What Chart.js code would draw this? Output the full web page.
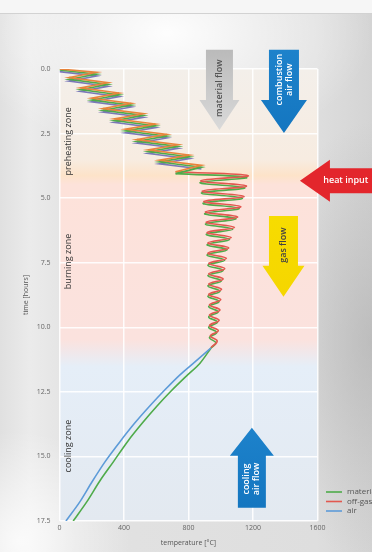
<!DOCTYPE html>
<html>
<head>
<meta charset="utf-8">
<script src="https://cdn.jsdelivr.net/npm/chart.js@4.4.1/dist/chart.umd.min.js"></script>
<style>
html, body { margin: 0; padding: 0; }
body {
    width: 372px; height: 552px; overflow: hidden; position: relative;
    background:
        radial-gradient(ellipse 55% 22% at 45% 6%, rgba(255,255,255,0.95), rgba(255,255,255,0) 100%),
        radial-gradient(ellipse 30% 40% at 100% 62%, rgba(170,170,170,0.55), rgba(170,170,170,0) 100%),
        radial-gradient(ellipse 30% 20% at 5% 98%, rgba(255,255,255,0.8), rgba(255,255,255,0) 100%),
        linear-gradient(90deg, #e0e0e0 0%, #ebebeb 8%, #e2e2e2 20%, #dedede 85%, #d4d4d4 100%);
}
#frame { position: absolute; left: 0; top: 0; width: 372px; height: 13px; background: #f6f6f6; border-bottom: 1px solid #d2d2d2; }
canvas { position: absolute; left: 0; top: 0; }
</style>
</head>
<body>
<div id="frame"></div>
<canvas id="kilnChart" width="372" height="552"></canvas>
<script>
const timeTicks = [0, 2.5, 5, 7.5, 10, 12.5, 15, 17.5];
const tempTicks = [0, 400, 800, 1200, 1600];

const zoneNames = ['preheating zone', 'burning zone', 'cooling zone'];
const zoneStart = [0, 4.3, 11.0];
const zoneEnd = [4.3, 11.0, 17.5];
const zoneLabelTime = [2.8, 7.45, 14.6];

// [temperature °C, time h]
const offgasPreheat = [[0,0],[230,0.13],[60,0.33],[300,0.53],[130,0.73],[370,0.93],[200,1.13],[445,1.33],[270,1.53],[520,1.73],[340,1.93],[595,2.13],[410,2.33],[665,2.53],[480,2.73],[735,2.93],[550,3.13],[805,3.33],[620,3.53],[880,3.73],[720,3.98]];
const materialPreheat = [[0,0.04],[230,0.2],[60,0.4],[300,0.6],[130,0.8],[370,1.0],[200,1.2],[445,1.4],[270,1.6],[520,1.8],[340,2.0],[595,2.2],[410,2.4],[665,2.6],[480,2.8],[735,3.0],[550,3.2],[805,3.4],[620,3.6],[880,3.8],[720,4.05]];
const airPreheat = [[0,0.1],[230,0.27],[60,0.47],[300,0.67],[130,0.87],[370,1.07],[200,1.27],[445,1.47],[270,1.67],[520,1.87],[340,2.07],[595,2.27],[410,2.47],[665,2.67],[480,2.87],[735,3.07],[550,3.27],[805,3.47],[620,3.67],[880,3.87]];

const offgasBurn = [[720,3.98],[1170,4.13],[875,4.33],[1160,4.53],[885,4.73],[1145,4.93],[895,5.13],[1125,5.33],[905,5.53],[1105,5.73],[910,5.93],[1085,6.13],[915,6.33],[1065,6.53],[920,6.73],[1050,6.93],[920,7.13],[1035,7.33],[925,7.53],[1025,7.73],[925,7.93],[1015,8.13],[925,8.33],[1005,8.53],[925,8.73],[1000,8.93],[930,9.13],[995,9.33],[930,9.53],[990,9.73],[930,9.93],[985,10.13],[935,10.33],[978,10.53],[940,10.78]];
const materialBurn = [[720,4.05],[1160,4.2],[870,4.4],[1150,4.6],[880,4.8],[1135,5.0],[890,5.2],[1115,5.4],[900,5.6],[1095,5.8],[905,6.0],[1075,6.2],[910,6.4],[1055,6.6],[915,6.8],[1040,7.0],[915,7.2],[1025,7.4],[920,7.6],[1015,7.8],[920,8.0],[1005,8.2],[920,8.4],[995,8.6],[920,8.8],[990,9.0],[925,9.2],[985,9.4],[925,9.6],[980,9.8],[925,10.0],[975,10.2],[930,10.4],[970,10.6],[940,10.8]];

const materialCool = [[940,10.8],[870,11.4],[785,11.9],[695,12.45],[605,13.05],[515,13.7],[425,14.4],[335,15.2],[250,15.95],[170,16.75],[85,17.5]];
const airCool = [[940,10.8],[840,11.34],[747,11.84],[654,12.42],[561,13.04],[468,13.7],[375,14.43],[282,15.21],[202,15.98],[126,16.76],[40,17.5]];

const FONT = "'Open Sans', 'DejaVu Sans', sans-serif";
const colors = { material: '#4fab4a', offgas: '#e2584f', air: '#5d9bd8' };

function pts(arr) {
    return arr.map(p => ({ x: p[0], y: p[1] }));
}

function line(data, color, tension) {
    return { data: pts(data), borderColor: color, borderWidth: 1.6, pointRadius: 0, showLine: true, tension: tension, fill: false };
}

const flowArrows = [
    { lines: ['material flow'], tail: [992, -0.75], tip: [992, 2.36], shaft: 27, head: 40, headLen: 30, fill: ['#bababa', '#dadada'], text: '#555', textAt: 0.48 },
    { lines: ['combustion', 'air flow'], tail: [1392, -0.75], tip: [1392, 2.48], shaft: 30, head: 46, headLen: 33, fill: ['#1d82cb', '#1476c0'], text: '#fff', textAt: 0.36 },
    { lines: ['heat input'], tail: [2060, 4.33], tip: [1491, 4.33], shaft: 25, head: 42, headLen: 30, fill: ['#e3262c', '#e3262c'], text: '#fff', textAt: 0.5 },
    { lines: ['gas flow'], tail: [1389, 5.69], tip: [1389, 8.82], shaft: 29, head: 42, headLen: 31, fill: ['#f7dc00', '#f5d600'], text: '#444', textAt: 0.36 },
    { lines: ['cooling', 'air flow'], tail: [1193, 16.99], tip: [1193, 13.89], shaft: 28, head: 44, headLen: 28, fill: ['#1476c0', '#1d82cb'], text: '#fff', textAt: 0.36 }
];

const zonePlugin = {
    id: 'zones',
    beforeDraw(chart) {
        const { ctx, chartArea: a, scales: { y } } = chart;
        const tops = ['#f3efea', '#fde2da', '#e5eef8'];
        const bottoms = ['#fde3c9', '#fbe2de', '#e3e9f0'];
        const blend = [0, 0.01, 0.03];
        const g = ctx.createLinearGradient(0, a.top, 0, a.bottom);
        for (let i = 0; i < zoneNames.length; i++) {
            const f0 = (y.getPixelForValue(zoneStart[i]) - a.top) / a.height;
            const f1 = (y.getPixelForValue(zoneEnd[i]) - a.top) / a.height;
            g.addColorStop(Math.min(1, f0 + blend[i]), tops[i]);
            if (i === 0) g.addColorStop(0.2, '#f7ece1');
            g.addColorStop(Math.max(0, f1 - (i < 2 ? blend[i + 1] : 0)), bottoms[i]);
        }
        ctx.save();
        ctx.fillStyle = g;
        ctx.fillRect(a.left, a.top, a.width, a.height);
        ctx.restore();
    },
    beforeDatasetsDraw(chart) {
        const { ctx, scales: { x, y } } = chart;
        ctx.save();
        ctx.fillStyle = '#333';
        ctx.font = '9px ' + FONT;
        ctx.textAlign = 'center';
        ctx.textBaseline = 'middle';
        zoneNames.forEach((name, i) => {
            ctx.save();
            ctx.translate(x.getPixelForValue(55), y.getPixelForValue(zoneLabelTime[i]));
            ctx.rotate(-Math.PI / 2);
            ctx.fillText(name, 0, 0);
            ctx.restore();
        });
        ctx.restore();
    }
};

const arrowPlugin = {
    id: 'arrows',
    afterDatasetsDraw(chart) {
        const { ctx, scales: { x, y } } = chart;
        flowArrows.forEach(ar => {
            const tx = x.getPixelForValue(ar.tail[0]), ty = y.getPixelForValue(ar.tail[1]);
            const px = x.getPixelForValue(ar.tip[0]), py = y.getPixelForValue(ar.tip[1]);
            const len = Math.hypot(px - tx, py - ty);
            const ux = (px - tx) / len, uy = (py - ty) / len;
            const nx = -uy, ny = ux;
            const bx = px - ux * ar.headLen, by = py - uy * ar.headLen;
            const s = ar.shaft / 2, h = ar.head / 2;
            ctx.save();
            const g = ctx.createLinearGradient(tx, ty, px, py);
            g.addColorStop(0, ar.fill[0]);
            g.addColorStop(1, ar.fill[1]);
            ctx.fillStyle = g;
            ctx.beginPath();
            ctx.moveTo(tx + nx * s, ty + ny * s);
            ctx.lineTo(bx + nx * s, by + ny * s);
            ctx.lineTo(bx + nx * h, by + ny * h);
            ctx.lineTo(px, py);
            ctx.lineTo(bx - nx * h, by - ny * h);
            ctx.lineTo(bx - nx * s, by - ny * s);
            ctx.lineTo(tx - nx * s, ty - ny * s);
            ctx.closePath();
            ctx.fill();

            const cx = tx + (px - tx) * ar.textAt, cy = ty + (py - ty) * ar.textAt;
            ctx.translate(cx, cy);
            if (Math.abs(uy) > 0.5) ctx.rotate(-Math.PI / 2);
            ctx.fillStyle = ar.text;
            ctx.font = '600 9px ' + FONT;
            ctx.textAlign = 'center';
            ctx.textBaseline = 'middle';
            const lh = 10;
            ar.lines.forEach((t, i) => {
                ctx.fillText(t, 0, (i - (ar.lines.length - 1) / 2) * lh);
            });
            ctx.restore();
        });

        // legend
        const entries = [['material', colors.material], ['off-gas', colors.offgas], ['air', colors.air]];
        ctx.save();
        ctx.font = '8px ' + FONT;
        ctx.textBaseline = 'middle';
        entries.forEach((e, i) => {
            const ly = 492 + i * 9.5;
            ctx.strokeStyle = e[1];
            ctx.lineWidth = 1.6;
            ctx.beginPath();
            ctx.moveTo(326, ly);
            ctx.lineTo(342, ly);
            ctx.stroke();
            ctx.fillStyle = '#555';
            ctx.fillText(e[0], 347, ly);
        });
        ctx.restore();
    }
};

const gridOpts = { color: 'rgba(255,255,255,0.9)', lineWidth: 1.5, drawTicks: false };

new Chart(document.getElementById('kilnChart').getContext('2d'), {
    type: 'scatter',
    data: {
        datasets: [
            line(offgasPreheat, '#e8843c', 0),
            line(materialPreheat, colors.material, 0),
            line(airPreheat, '#7a78b8', 0),
            line(offgasBurn, colors.offgas, 0.4),
            line(materialBurn, colors.material, 0.4),
            line(airCool, colors.air, 0.3),
            line(materialCool, colors.material, 0.3)
        ]
    },
    options: {
        responsive: false,
        animation: false,
        devicePixelRatio: 1,
        layout: { padding: { top: 69, right: 54.5, left: 0, bottom: 0 } },
        plugins: { legend: { display: false }, tooltip: { enabled: false } },
        scales: {
            x: {
                type: 'linear', min: 0, max: 1600,
                afterBuildTicks: s => { s.ticks = tempTicks.map(v => ({ value: v })); },
                afterFit: s => { s.height = 31; },
                ticks: { color: '#666', font: { size: 7, family: FONT }, padding: 3, maxRotation: 0, callback: v => String(v) },
                grid: gridOpts,
                border: { display: false },
                title: { display: true, text: 'temperature [°C]', color: '#555', font: { size: 7, family: FONT }, padding: { top: 0, bottom: 5 } }
            },
            y: {
                type: 'linear', reverse: true, min: 0, max: 17.5,
                afterBuildTicks: s => { s.ticks = timeTicks.map(v => ({ value: v })); },
                afterFit: s => { s.width = 59.5; },
                ticks: { color: '#666', font: { size: 7, family: FONT }, padding: 9, callback: v => v.toFixed(1) },
                grid: gridOpts,
                border: { display: false },
                title: { display: true, text: 'time [hours]', color: '#555', font: { size: 7, family: FONT }, padding: { top: 22, bottom: 0 } }
            }
        }
    },
    plugins: [zonePlugin, arrowPlugin]
});
</script>
</body>
</html>
